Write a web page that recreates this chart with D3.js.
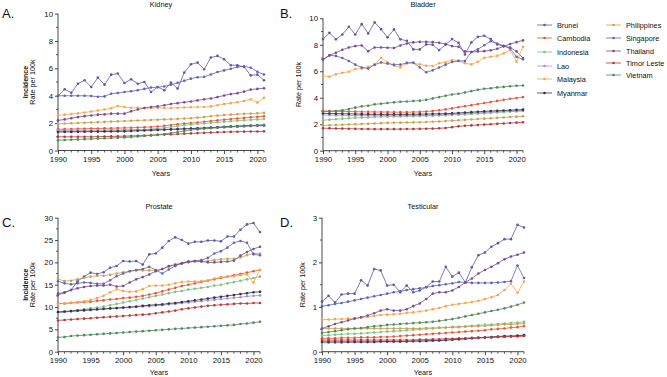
<!DOCTYPE html>
<html><head><meta charset="utf-8">
<script src="https://cdn.jsdelivr.net/npm/d3@7"></script>
<style>
html,body{margin:0;padding:0;background:#fff;}
svg{display:block;font-family:"Liberation Sans",Arial,Helvetica,sans-serif;}
</style></head>
<body>
<svg id="chart" width="667" height="377"></svg>
<script>
const years = [1990,1991,1992,1993,1994,1995,1996,1997,1998,1999,2000,2001,2002,2003,2004,2005,2006,2007,2008,2009,2010,2011,2012,2013,2014,2015,2016,2017,2018,2019,2020,2021];
const countries = ["Brunei","Cambodia","Indonesia","Lao","Malaysia","Myanmar","Philippines","Singapore","Thailand","Timor Leste","Vietnam"];
const colors = ["#5a5aa6","#e0573c","#80c080","#a98fd0","#f5a64a","#33334a","#c7a24f","#6064b3","#7a4b8f","#b23b3b","#4f8a5b"];
const xTickYears = [1990,1995,2000,2005,2010,2015,2020];

// order follows countries
const kidneyValues = [
 [3.98,4.47,4.22,4.88,5.13,4.64,5.32,4.81,5.54,5.62,4.93,5.20,4.88,5.00,4.27,4.64,4.40,4.96,4.52,5.69,6.30,6.42,5.93,6.79,6.91,6.67,6.23,6.23,6.10,5.49,5.54,5.13],
 [1.55,1.56,1.57,1.58,1.59,1.60,1.61,1.62,1.63,1.64,1.65,1.66,1.68,1.70,1.72,1.75,1.80,1.86,1.92,1.96,2.00,2.05,2.10,2.15,2.20,2.25,2.30,2.34,2.38,2.42,2.46,2.50],
 [1.40,1.40,1.40,1.41,1.41,1.42,1.42,1.43,1.44,1.45,1.46,1.48,1.50,1.53,1.57,1.61,1.66,1.72,1.78,1.84,1.90,1.94,1.98,2.02,2.06,2.10,2.14,2.18,2.21,2.24,2.27,2.30],
 [1.48,1.48,1.48,1.48,1.48,1.49,1.49,1.50,1.50,1.50,1.51,1.51,1.52,1.52,1.53,1.54,1.55,1.56,1.57,1.58,1.60,1.62,1.64,1.66,1.68,1.70,1.72,1.74,1.76,1.78,1.79,1.80],
 [2.58,2.62,2.66,2.72,2.78,2.85,2.92,3.00,3.08,3.25,3.18,3.12,3.12,3.10,3.10,3.12,3.10,3.10,3.12,3.14,3.16,3.18,3.18,3.22,3.30,3.40,3.46,3.52,3.62,3.74,3.50,3.85],
 [1.35,1.36,1.36,1.37,1.37,1.38,1.38,1.39,1.39,1.40,1.40,1.42,1.44,1.46,1.48,1.50,1.52,1.54,1.56,1.58,1.60,1.62,1.64,1.67,1.70,1.73,1.76,1.78,1.80,1.82,1.84,1.85],
 [1.95,1.97,1.99,2.01,2.03,2.05,2.07,2.09,2.11,2.13,2.15,2.17,2.19,2.21,2.23,2.25,2.27,2.29,2.31,2.33,2.36,2.40,2.45,2.50,2.55,2.59,2.62,2.65,2.68,2.70,2.72,2.75],
 [4.00,4.00,4.00,4.00,4.00,3.98,3.93,3.95,4.15,4.20,4.27,4.33,4.40,4.50,4.60,4.62,4.68,4.80,4.95,5.10,5.25,5.35,5.38,5.55,5.73,5.85,5.97,6.10,6.15,6.05,5.75,5.55],
 [2.20,2.27,2.36,2.44,2.51,2.56,2.62,2.64,2.69,2.69,2.69,2.86,3.00,3.10,3.18,3.22,3.30,3.40,3.46,3.52,3.58,3.66,3.74,3.80,3.90,4.02,4.12,4.18,4.30,4.45,4.50,4.55],
 [1.00,1.00,1.00,1.00,1.00,1.00,1.01,1.02,1.03,1.04,1.05,1.06,1.08,1.10,1.12,1.14,1.16,1.18,1.20,1.23,1.25,1.27,1.29,1.31,1.33,1.35,1.36,1.37,1.38,1.39,1.39,1.40],
 [0.75,0.77,0.79,0.81,0.83,0.85,0.87,0.89,0.91,0.93,0.95,0.98,1.02,1.06,1.10,1.15,1.21,1.28,1.35,1.42,1.50,1.54,1.58,1.62,1.66,1.70,1.73,1.76,1.79,1.82,1.84,1.86]
];
const bladderValues = [
 [8.43,8.90,8.41,8.78,9.36,8.78,9.56,8.86,9.69,9.18,8.56,9.16,8.41,8.30,7.65,7.65,8.03,8.00,7.60,8.00,8.43,8.15,7.27,8.18,8.60,8.68,8.43,8.03,7.90,7.80,7.50,7.00],
 [3.00,2.99,2.98,2.97,2.96,2.95,2.94,2.93,2.93,2.92,2.92,2.91,2.91,2.91,2.92,2.93,2.96,3.00,3.05,3.12,3.20,3.28,3.36,3.44,3.52,3.60,3.68,3.76,3.84,3.92,3.98,4.05],
 [2.30,2.34,2.38,2.42,2.45,2.48,2.50,2.52,2.54,2.56,2.57,2.58,2.59,2.60,2.61,2.62,2.63,2.64,2.66,2.68,2.70,2.72,2.74,2.77,2.80,2.83,2.86,2.89,2.92,2.95,2.97,3.00],
 [2.70,2.69,2.68,2.67,2.66,2.65,2.65,2.64,2.64,2.64,2.64,2.64,2.64,2.65,2.65,2.66,2.67,2.68,2.70,2.72,2.74,2.77,2.80,2.83,2.86,2.89,2.92,2.95,2.98,3.00,3.02,3.04],
 [5.66,5.59,5.77,5.89,5.96,6.17,6.20,6.34,6.47,7.02,6.67,6.42,6.29,6.60,6.60,6.52,6.42,6.40,6.60,6.67,6.85,6.80,6.60,6.52,6.72,7.02,7.10,7.17,7.35,7.60,6.72,7.85],
 [2.82,2.81,2.80,2.79,2.78,2.77,2.76,2.75,2.75,2.74,2.74,2.74,2.74,2.74,2.75,2.76,2.77,2.78,2.79,2.80,2.82,2.85,2.88,2.91,2.94,2.97,3.00,3.02,3.04,3.06,3.08,3.10],
 [1.90,1.92,1.94,1.96,1.98,2.00,2.02,2.04,2.06,2.08,2.10,2.11,2.12,2.13,2.14,2.15,2.17,2.19,2.21,2.24,2.27,2.30,2.33,2.36,2.39,2.42,2.45,2.48,2.51,2.54,2.57,2.60],
 [6.88,7.20,7.16,7.00,6.78,6.50,6.28,6.20,6.50,6.66,6.58,6.50,6.50,6.63,6.66,6.28,5.92,6.07,6.28,6.50,6.70,6.78,6.78,7.46,7.66,7.97,8.27,8.10,7.92,7.72,7.09,6.90],
 [6.88,7.20,7.40,7.62,7.80,7.90,7.95,7.52,7.80,7.80,7.78,7.76,7.95,8.10,8.18,8.22,8.22,8.20,8.15,8.05,7.90,7.85,7.50,7.45,7.50,7.52,7.58,7.70,7.88,8.05,8.20,8.33],
 [1.70,1.69,1.68,1.67,1.66,1.65,1.64,1.64,1.63,1.63,1.63,1.63,1.63,1.64,1.64,1.65,1.66,1.67,1.69,1.72,1.78,1.84,1.88,1.91,1.94,1.97,2.00,2.03,2.06,2.09,2.12,2.15],
 [2.95,2.97,3.00,3.05,3.15,3.25,3.35,3.40,3.50,3.55,3.60,3.65,3.70,3.72,3.75,3.78,3.85,3.95,4.05,4.15,4.25,4.30,4.40,4.50,4.60,4.68,4.72,4.78,4.82,4.87,4.90,4.92]
];
const prostateValues = [
 [13.0,13.3,13.8,15.8,16.8,17.7,17.4,17.8,18.8,19.2,20.3,20.2,20.3,19.5,21.8,22.0,23.3,24.8,25.6,25.0,24.2,24.6,24.6,24.9,24.9,24.7,25.8,25.8,27.3,28.5,28.8,26.8],
 [10.8,10.8,10.9,11.0,11.1,11.2,11.4,11.5,11.7,11.8,12.0,12.1,12.3,12.5,12.8,13.1,13.5,13.9,14.3,14.7,15.0,15.3,15.6,15.9,16.2,16.5,16.8,17.1,17.4,17.7,18.0,18.3],
 [8.8,8.9,9.1,9.3,9.5,9.7,9.9,10.1,10.4,10.7,11.0,11.3,11.6,11.9,12.2,12.5,12.8,13.1,13.4,13.6,13.9,14.1,14.3,14.5,14.8,15.0,15.3,15.6,15.9,16.2,16.5,16.8],
 [8.8,8.9,9.0,9.1,9.2,9.3,9.4,9.5,9.6,9.7,9.8,9.9,10.0,10.1,10.2,10.3,10.4,10.6,10.7,10.9,11.0,11.2,11.3,11.5,11.6,11.8,11.9,12.1,12.2,12.4,12.5,12.6],
 [10.7,10.8,11.0,11.1,11.3,11.6,12.0,12.5,13.3,14.0,13.6,13.4,13.5,14.0,14.7,14.8,14.8,15.0,15.3,15.6,15.7,15.7,15.8,16.0,16.4,16.7,16.8,16.9,17.1,17.3,15.5,18.3],
 [8.9,9.0,9.1,9.2,9.3,9.4,9.5,9.6,9.7,9.8,9.9,10.0,10.1,10.3,10.4,10.5,10.6,10.8,10.9,11.1,11.3,11.5,11.7,11.9,12.1,12.3,12.5,12.7,12.9,13.1,13.3,13.4],
 [16.3,15.8,15.9,16.2,16.5,16.8,17.0,17.0,17.2,17.5,17.8,18.0,18.2,18.2,18.2,18.3,18.5,19.0,19.4,19.7,20.0,20.2,20.2,20.3,20.5,20.7,20.8,20.8,21.1,21.6,22.0,22.0],
 [15.8,15.3,15.1,15.3,15.5,15.4,15.2,15.2,16.0,16.9,17.5,18.0,18.3,18.5,19.0,18.3,17.5,18.4,19.2,19.8,20.1,20.3,20.5,21.0,22.0,22.5,23.3,24.4,24.8,24.4,21.8,21.6],
 [12.7,13.2,13.8,14.2,14.5,14.7,14.8,14.8,15.0,14.6,14.7,15.5,16.2,16.7,17.3,18.0,18.5,19.2,19.5,19.8,20.2,20.3,20.2,20.0,20.0,20.1,20.2,20.4,21.5,22.3,23.0,23.5],
 [7.0,7.1,7.2,7.3,7.4,7.5,7.6,7.7,7.8,7.9,8.0,8.1,8.2,8.3,8.4,8.6,8.8,9.0,9.2,9.5,9.7,9.9,10.1,10.3,10.4,10.5,10.6,10.7,10.8,10.8,10.9,10.9],
 [3.2,3.3,3.5,3.6,3.7,3.8,3.9,4.0,4.1,4.2,4.3,4.4,4.5,4.6,4.7,4.8,4.9,5.0,5.1,5.2,5.3,5.4,5.5,5.6,5.7,5.8,5.9,6.0,6.2,6.3,6.5,6.7]
];
const testicularValues = [
 [1.12,1.25,1.10,1.28,1.30,1.30,1.60,1.48,1.85,1.82,1.48,1.50,1.33,1.48,1.33,1.37,1.45,1.57,1.57,1.90,1.68,1.77,1.55,1.89,2.16,2.22,2.35,2.43,2.52,2.52,2.84,2.78],
 [0.30,0.30,0.30,0.31,0.31,0.31,0.32,0.32,0.32,0.33,0.33,0.34,0.35,0.36,0.37,0.38,0.39,0.40,0.41,0.42,0.43,0.44,0.45,0.46,0.47,0.48,0.50,0.51,0.52,0.54,0.55,0.57],
 [0.36,0.37,0.38,0.39,0.40,0.40,0.41,0.42,0.43,0.44,0.45,0.46,0.47,0.48,0.49,0.50,0.51,0.52,0.53,0.54,0.55,0.56,0.57,0.58,0.59,0.60,0.61,0.62,0.63,0.64,0.65,0.67],
 [0.20,0.20,0.20,0.20,0.21,0.21,0.21,0.21,0.21,0.22,0.22,0.22,0.22,0.23,0.23,0.23,0.24,0.24,0.25,0.26,0.27,0.28,0.29,0.30,0.31,0.31,0.32,0.33,0.34,0.34,0.35,0.36],
 [0.72,0.72,0.73,0.73,0.74,0.75,0.76,0.78,0.80,0.82,0.83,0.84,0.85,0.87,0.88,0.90,0.92,0.95,0.98,1.02,1.05,1.07,1.09,1.11,1.14,1.18,1.22,1.27,1.38,1.52,1.32,1.57],
 [0.22,0.22,0.22,0.22,0.22,0.22,0.22,0.22,0.22,0.23,0.23,0.23,0.23,0.23,0.24,0.24,0.24,0.25,0.25,0.26,0.27,0.28,0.29,0.30,0.31,0.32,0.33,0.34,0.35,0.35,0.36,0.37],
 [0.52,0.52,0.52,0.52,0.52,0.52,0.52,0.52,0.52,0.52,0.52,0.52,0.52,0.52,0.52,0.52,0.53,0.53,0.54,0.54,0.55,0.55,0.56,0.57,0.57,0.58,0.59,0.60,0.61,0.61,0.62,0.63],
 [1.02,1.04,1.07,1.09,1.12,1.15,1.18,1.21,1.24,1.27,1.30,1.33,1.35,1.38,1.40,1.42,1.44,1.47,1.49,1.51,1.53,1.56,1.55,1.54,1.54,1.54,1.54,1.55,1.56,1.58,1.93,1.65],
 [0.52,0.57,0.62,0.66,0.70,0.74,0.77,0.81,0.86,0.92,0.95,0.92,0.92,0.95,1.02,1.08,1.18,1.30,1.33,1.33,1.37,1.45,1.55,1.64,1.75,1.83,1.90,1.98,2.07,2.13,2.17,2.22],
 [0.26,0.26,0.26,0.26,0.26,0.26,0.26,0.26,0.26,0.26,0.26,0.26,0.26,0.26,0.26,0.27,0.27,0.28,0.28,0.29,0.29,0.30,0.30,0.31,0.31,0.32,0.32,0.33,0.33,0.34,0.34,0.35],
 [0.42,0.44,0.46,0.48,0.50,0.52,0.53,0.55,0.57,0.58,0.60,0.61,0.62,0.63,0.64,0.65,0.66,0.67,0.69,0.71,0.73,0.76,0.79,0.82,0.85,0.88,0.91,0.94,0.97,1.01,1.05,1.10]
];
const kidneyTicks = [0,2,4,6,8,10];
const bladderTicks = [0,2,4,6,8,10];
const prostateTicks = [0,5,10,15,20,25,30];
const testicularTicks = [0,1,2,3];

const svg = d3.select("#chart");
const txt = "#111";

const panels = [
  {letter:"A.", title:"Kidney", values:kidneyValues, ticks:kidneyTicks, minorStep:1,
   x0:58, x1:264, yTop:13.6, yBot:150.5, incidence:true, lx:2, ly:18, titleY:7, yearsY:176, ylabX:35},
  {letter:"B.", title:"Bladder", values:bladderValues, ticks:bladderTicks, minorStep:1,
   x0:323, x1:523, yTop:18.3, yBot:150.7, incidence:false, lx:280, ly:18, titleY:7, yearsY:176, ylabX:301},
  {letter:"C.", title:"Prostate", values:prostateValues, ticks:prostateTicks, minorStep:2.5,
   x0:58, x1:260, yTop:217.7, yBot:351.7, incidence:true, lx:2, ly:227, titleY:209, yearsY:375, ylabX:35},
  {letter:"D.", title:"Testicular", values:testicularValues, ticks:testicularTicks, minorStep:0.5,
   x0:322, x1:524, yTop:217.7, yBot:351.7, incidence:false, lx:280, ly:227, titleY:209, yearsY:375, ylabX:305}
];

panels.forEach(p => {
  const g = svg.append("g");
  const ymax = p.ticks[p.ticks.length-1];
  const x = d3.scaleLinear().domain([years[0], years[years.length-1]]).range([p.x0, p.x1]);
  const y = d3.scaleLinear().domain([0, ymax]).range([p.yBot, p.yTop]);

  g.append("text").attr("x", p.lx).attr("y", p.ly).attr("font-size", 13).attr("fill", txt).text(p.letter);
  g.append("text").attr("x", (p.x0+p.x1)/2).attr("y", p.titleY).attr("text-anchor","middle")
    .attr("font-size", 7.3).attr("fill", txt).text(p.title);

  const minorY = d3.range(0, ymax + 1e-9, p.minorStep).filter(v => !p.ticks.includes(v));
  g.selectAll(".my").data(minorY).join("line")
    .attr("x1", p.x0-2).attr("x2", p.x0).attr("y1", d=>y(d)).attr("y2", d=>y(d))
    .attr("stroke", "#333").attr("stroke-width", 0.8);
  const minorX = years.filter(v => !xTickYears.includes(v));
  g.selectAll(".mx").data(minorX).join("line")
    .attr("x1", d=>x(d)).attr("x2", d=>x(d)).attr("y1", p.yBot).attr("y2", p.yBot+2)
    .attr("stroke", "#333").attr("stroke-width", 0.8);

  const yAxis = d3.axisLeft(y).tickValues(p.ticks).tickSize(3).tickPadding(2).tickFormat(d3.format("d"));
  const ya = g.append("g").attr("transform", `translate(${p.x0},0)`).call(yAxis);
  const xAxis = d3.axisBottom(x).tickValues(xTickYears).tickSize(3.5).tickPadding(2).tickFormat(d3.format("d"));
  const xa = g.append("g").attr("transform", `translate(0,${p.yBot})`).call(xAxis);
  [ya, xa].forEach(a => {
    a.select(".domain").attr("stroke", "#333").attr("stroke-width", 0.9);
    a.selectAll(".tick line").attr("stroke", "#333").attr("stroke-width", 0.9);
    a.selectAll(".tick text").attr("font-size", 7.8).attr("fill", txt).attr("font-family", "Liberation Sans, Arial, sans-serif");
  });
  xa.select(".domain").attr("d", `M${p.x0},0H${p.x1}`);
  ya.select(".domain").attr("d", `M0,${p.yBot}V${p.yTop}`);

  const cy = (p.yTop + p.yBot)/2;
  if (p.incidence) {
    g.append("text").attr("transform", `translate(${p.ylabX-7},${cy}) rotate(-90)`).attr("text-anchor","middle")
      .attr("font-size", 7).attr("font-weight","bold").attr("fill", txt).text("Incidence");
  }
  g.append("text").attr("transform", `translate(${p.ylabX},${cy}) rotate(-90)`).attr("text-anchor","middle")
    .attr("font-size", 7.2).attr("fill", txt).text("Rate per 100k");
  g.append("text").attr("x", (p.x0+p.x1)/2).attr("y", p.yearsY).attr("text-anchor","middle")
    .attr("font-size", 7.3).attr("fill", txt).text("Years");

  const line = d3.line().x((d,i)=>x(years[i])).y(d=>y(d));
  p.values.forEach((vals, ci) => {
    const sg = g.append("g");
    sg.append("path").attr("d", line(vals)).attr("fill","none").attr("stroke", colors[ci]).attr("stroke-width", 0.8);
    sg.selectAll("circle").data(vals).join("circle")
      .attr("cx", (d,i)=>x(years[i])).attr("cy", d=>y(d)).attr("r", 1.3).attr("fill", colors[ci]);
  });
});

// legend
const legendPos = [
  {x:537, y:25},{x:537, y:38},{x:537, y:52},{x:537, y:66},{x:537, y:79},{x:537, y:93},
  {x:606, y:25},{x:606, y:38},{x:606, y:51},{x:606, y:63},{x:606, y:75}
];
const lg = svg.append("g");
countries.forEach((c, i) => {
  const pos = legendPos[i];
  lg.append("line").attr("x1", pos.x).attr("x2", pos.x+15).attr("y1", pos.y).attr("y2", pos.y)
    .attr("stroke", colors[i]).attr("stroke-width", 0.8);
  lg.append("circle").attr("cx", pos.x+7.5).attr("cy", pos.y).attr("r", 1.3).attr("fill", colors[i]);
  lg.append("text").attr("x", pos.x+20).attr("y", pos.y+2.6).attr("font-size", 7.3).attr("fill", txt).text(c);
});
</script>
</body></html>
